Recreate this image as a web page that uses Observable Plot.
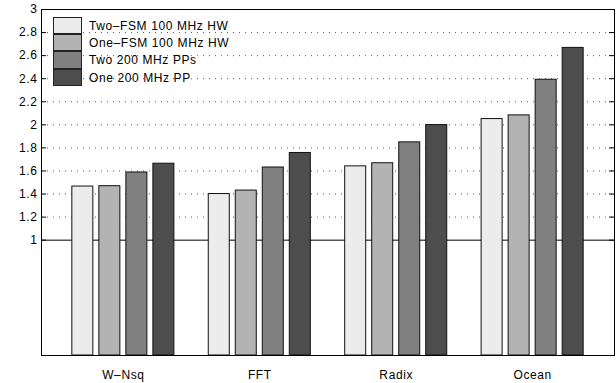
<!DOCTYPE html>
<html>
<head>
<meta charset="utf-8">
<script src="https://cdn.jsdelivr.net/npm/d3@7"></script>
<script src="https://cdn.jsdelivr.net/npm/@observablehq/plot@0.6"></script>
<style>
  html, body { margin: 0; padding: 0; background: #fff; }
  #wrap { position: relative; width: 616px; height: 383px; font-family: "Liberation Sans", Arial, sans-serif; }
  #legend { position: absolute; left: 53px; top: 17px; }
  .row { display: flex; align-items: center; height: 17.4px; }
  .sw { width: 29px; height: 17.4px; box-sizing: border-box; border: 1px solid #222; margin-top: -1px; }
  .row:first-child .sw { margin-top: 0; }
  .lab { margin-left: 7px; font-size: 12px; letter-spacing: 0.6px; color: #000; white-space: nowrap; }
  svg text { letter-spacing: 0.6px; }
</style>
</head>
<body>
<div id="wrap"></div>
<script>
const groups = ["W\u2013Nsq", "FFT", "Radix", "Ocean"];
const seriesNames = ["Two\u2013FSM 100 MHz HW", "One\u2013FSM 100 MHz HW", "Two 200 MHz PPs", "One 200 MHz PP"];
const seriesColors = ["#ececec", "#b3b3b3", "#808080", "#4d4d4d"];
const twoFsm100 = [1.465, 1.40, 1.64, 2.05];
const oneFsm100 = [1.468, 1.43, 1.667, 2.082];
const two200 = [1.587, 1.63, 1.848, 2.391];
const one200 = [1.663, 1.756, 1.998, 2.667];
const yTicks = [1, 1.2, 1.4, 1.6, 1.8, 2, 2.2, 2.4, 2.6, 2.8, 3];

const seriesValues = [twoFsm100, oneFsm100, two200, one200];
const rows = [];
seriesValues.forEach((vals, s) => vals.forEach((v, g) => rows.push({g: g + 1, s, value: v})));

const barStep = 0.198, barHalf = 0.077;

const chart = Plot.plot({
  width: 616, height: 383,
  marginLeft: 41, marginRight: 2, marginTop: 9, marginBottom: 28,
  style: {fontFamily: "'Liberation Sans', Arial, sans-serif", fontSize: "12px", background: "#fff", color: "#000"},
  x: {domain: [0.4, 4.6], axis: null},
  y: {domain: [0, 3], axis: null},
  marks: [
    Plot.ruleY(yTicks.filter(d => d !== 1 && d !== 3), {stroke: "#555", strokeDasharray: "1 5", strokeWidth: 1}),
    Plot.ruleY([1], {stroke: "#000", strokeWidth: 1}),
    Plot.rectY(rows, {
      x1: d => d.g + (d.s - 1.5) * barStep - barHalf,
      x2: d => d.g + (d.s - 1.5) * barStep + barHalf,
      y1: 0, y2: "value",
      fill: d => seriesColors[d.s],
      stroke: "#111", strokeWidth: 1
    }),
    Plot.ruleY([0], {x1: 0.598, x2: 4.6, stroke: "#666", strokeWidth: 1.2}),
    Plot.frame({stroke: "#000", strokeWidth: 1}),
    Plot.tickY(yTicks, {stroke: "#000", insetRight: 568}),
    Plot.tickY(yTicks, {stroke: "#000", insetLeft: 568}),
    Plot.axisY({ticks: yTicks, label: null, tickSize: 0, tickPadding: 4, tickFormat: d => String(d), fontSize: 12}),
    Plot.axisX({ticks: [1, 2, 3, 4], label: null, tickSize: 0, tickPadding: 15, tickFormat: i => groups[i - 1], fontSize: 12})
  ]
});

const wrap = document.getElementById("wrap");
wrap.appendChild(chart);
const legend = document.createElement("div");
legend.id = "legend";
seriesNames.forEach((name, i) => {
  const row = document.createElement("div");
  row.className = "row";
  const sw = document.createElement("div");
  sw.className = "sw";
  sw.style.background = seriesColors[i];
  const lab = document.createElement("span");
  lab.className = "lab";
  lab.textContent = name;
  row.appendChild(sw); row.appendChild(lab);
  legend.appendChild(row);
});
wrap.appendChild(legend);
</script>
</body>
</html>
